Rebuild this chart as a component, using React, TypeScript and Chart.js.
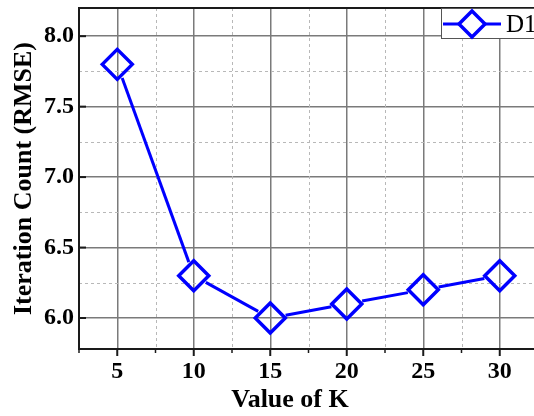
import React, { useEffect, useRef } from "react";
import { Chart, registerables } from "chart.js";

Chart.register(...registerables);

// K values on the x axis and the D1 series
const kValues = [5, 10, 15, 20, 25, 30];
const d1Values = [7.8, 6.3, 6.0, 6.1, 6.2, 6.3];

// Tick positions
const xMajorTicks = [5, 10, 15, 20, 25, 30];
const xMinorTicks = [2.5, 7.5, 12.5, 17.5, 22.5, 27.5, 32.5];
const yMajorTicks = [6.0, 6.5, 7.0, 7.5, 8.0];
const yMinorTicks = [6.25, 6.75, 7.25, 7.75];

const seriesName = "D1";
const xTitle = "Value of K";
const yTitle = "Iteration Count (RMSE)";

const BLUE = "#0000ff";
const SERIF = "'Liberation Serif', 'Times New Roman', serif";
const POINT_RADIUS = 15;
const POINT_BORDER = 3.5;

const framePlugin = {
  id: "frameAndExtras",
  beforeDatasetsDraw(chart: any) {
    const { ctx, chartArea } = chart;
    const xs = chart.scales.x;
    const ys = chart.scales.y;
    const { left, right, top, bottom } = chartArea;
    ctx.save();

    // dashed minor grid
    ctx.strokeStyle = "#b8b8b8";
    ctx.lineWidth = 1;
    ctx.setLineDash([3, 3]);
    xMinorTicks.forEach((v) => {
      const px = Math.round(xs.getPixelForValue(v)) + 0.5;
      ctx.beginPath();
      ctx.moveTo(px, top);
      ctx.lineTo(px, bottom);
      ctx.stroke();
    });
    yMinorTicks.forEach((v) => {
      const py = Math.round(ys.getPixelForValue(v)) + 0.5;
      ctx.beginPath();
      ctx.moveTo(left, py);
      ctx.lineTo(right, py);
      ctx.stroke();
    });
    ctx.setLineDash([]);

    // frame
    ctx.strokeStyle = "#1a1a1a";
    ctx.lineWidth = 2;
    ctx.strokeRect(left, top, right - left, bottom - top);

    // tick marks: inward on y, outward on x
    ctx.lineWidth = 2;
    yMajorTicks.forEach((v) => {
      const py = ys.getPixelForValue(v);
      ctx.beginPath();
      ctx.moveTo(left, py);
      ctx.lineTo(left + 7, py);
      ctx.stroke();
    });
    xMajorTicks.forEach((v) => {
      const px = xs.getPixelForValue(v);
      ctx.beginPath();
      ctx.moveTo(px, bottom);
      ctx.lineTo(px, bottom + 7);
      ctx.stroke();
    });
    ctx.lineWidth = 1.5;
    xMinorTicks.forEach((v) => {
      const px = xs.getPixelForValue(v);
      ctx.beginPath();
      ctx.moveTo(px, bottom);
      ctx.lineTo(px, bottom + 4);
      ctx.stroke();
    });

    // connecting segments, stopping at each marker's outline
    const pts = chart.getDatasetMeta(0).data;
    ctx.strokeStyle = BLUE;
    ctx.lineWidth = 3;
    ctx.lineCap = "butt";
    for (let i = 0; i < pts.length - 1; i++) {
      const a = pts[i];
      const b = pts[i + 1];
      const dx = b.x - a.x;
      const dy = b.y - a.y;
      const len = Math.hypot(dx, dy);
      const ux = dx / len;
      const uy = dy / len;
      const trim = POINT_RADIUS / (Math.abs(ux) + Math.abs(uy)) + POINT_BORDER / 2 + 1;
      if (len <= trim * 2) continue;
      ctx.beginPath();
      ctx.moveTo(a.x + ux * trim, a.y + uy * trim);
      ctx.lineTo(b.x - ux * trim, b.y - uy * trim);
      ctx.stroke();
    }
    ctx.restore();
  },
  afterDraw(chart: any) {
    const { ctx, chartArea } = chart;
    const { left, right, top, bottom } = chartArea;
    ctx.save();

    // legend box in the top-right corner
    const boxLeft = 441;
    const boxTop = top;
    const boxH = 30;
    ctx.fillStyle = "#ffffff";
    ctx.fillRect(boxLeft, boxTop, right - boxLeft + 20, boxH);
    ctx.strokeStyle = "#555555";
    ctx.lineWidth = 1;
    ctx.strokeRect(boxLeft + 0.5, boxTop + 0.5, right - boxLeft + 20, boxH);
    const ly = boxTop + 16;
    ctx.strokeStyle = BLUE;
    ctx.lineWidth = 3;
    ctx.beginPath();
    ctx.moveTo(boxLeft + 2, ly);
    ctx.lineTo(boxLeft + 60, ly);
    ctx.stroke();
    const cx = boxLeft + 31;
    const r = 13;
    ctx.fillStyle = "#ffffff";
    ctx.lineWidth = POINT_BORDER;
    ctx.beginPath();
    ctx.moveTo(cx - r, ly);
    ctx.lineTo(cx, ly - r);
    ctx.lineTo(cx + r, ly);
    ctx.lineTo(cx, ly + r);
    ctx.closePath();
    ctx.fill();
    ctx.stroke();
    ctx.fillStyle = "#000000";
    ctx.font = `normal 25px ${SERIF}`;
    ctx.textAlign = "left";
    ctx.textBaseline = "middle";
    ctx.fillText(seriesName, boxLeft + 65, ly + 1);

    // axis titles
    ctx.font = `bold 26px ${SERIF}`;
    ctx.textAlign = "center";
    ctx.textBaseline = "alphabetic";
    ctx.fillText(xTitle, left + 211, bottom + 58);

    ctx.translate(left - 55, (top + bottom) / 2);
    ctx.rotate(-Math.PI / 2);
    ctx.textBaseline = "middle";
    ctx.fillText(yTitle, 0, 0);
    ctx.restore();
  },
};

export default function App() {
  const canvasRef = useRef<HTMLCanvasElement | null>(null);

  useEffect(() => {
    const canvas = canvasRef.current;
    if (!canvas) return;
    const tickFont = { family: SERIF, size: 24, weight: "bold" as const };
    const chart = new Chart(canvas, {
      type: "line",
      data: {
        datasets: [
          {
            label: seriesName,
            data: kValues.map((k, i) => ({ x: k, y: d1Values[i] })),
            showLine: false,
            borderColor: BLUE,
            backgroundColor: "transparent",
            pointStyle: "rectRot",
            pointRadius: POINT_RADIUS,
            pointBorderWidth: POINT_BORDER,
            pointBorderColor: BLUE,
            pointBackgroundColor: "transparent",
          },
        ],
      },
      options: {
        animation: false,
        responsive: false,
        maintainAspectRatio: false,
        devicePixelRatio: 1,
        layout: { autoPadding: false, padding: { top: 8, right: 8, left: 0, bottom: 0 } },
        plugins: {
          legend: { display: false },
          tooltip: { enabled: false },
        },
        scales: {
          x: {
            type: "linear",
            min: 2.5,
            max: 32.5,
            afterBuildTicks: (scale: any) => {
              scale.ticks = xMajorTicks.map((v) => ({ value: v }));
            },
            afterFit: (scale: any) => {
              scale.height = 67;
              scale.paddingLeft = 0;
              scale.paddingRight = 0;
            },
            ticks: {
              font: tickFont,
              color: "#000000",
              padding: 8,
              maxRotation: 0,
              autoSkip: false,
              callback: (v: any) => String(v),
            },
            grid: { color: "#7a7a7a", lineWidth: 1.5, drawTicks: false },
            border: { display: false },
          },
          y: {
            type: "linear",
            min: 5.78,
            max: 8.2,
            afterBuildTicks: (scale: any) => {
              scale.ticks = yMajorTicks.map((v) => ({ value: v }));
            },
            afterFit: (scale: any) => {
              scale.width = 79;
              scale.paddingTop = 0;
              scale.paddingBottom = 0;
            },
            ticks: {
              font: tickFont,
              color: "#000000",
              padding: 5,
              autoSkip: false,
              callback: (v: any) => Number(v).toFixed(1),
            },
            grid: { color: "#7a7a7a", lineWidth: 1.5, drawTicks: false },
            border: { display: false },
          },
        },
      },
      plugins: [framePlugin],
    });
    return () => chart.destroy();
  }, []);

  return (
    <div
      style={{
        position: "fixed",
        left: 0,
        top: 0,
        width: 534,
        height: 416,
        overflow: "hidden",
        background: "#ffffff",
      }}
    >
      <canvas ref={canvasRef} width={546} height={416} style={{ display: "block", width: 546, height: 416 }} />
    </div>
  );
}
